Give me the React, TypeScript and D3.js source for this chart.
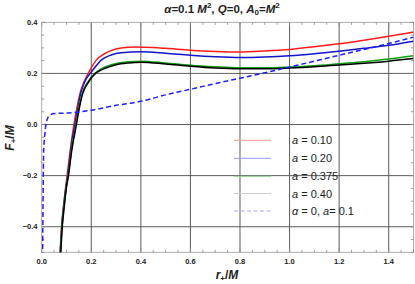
import { useEffect, useRef } from 'react';
import * as d3 from 'd3';

// a = 0.10
const rRed = [0.07, 0.074, 0.08, 0.09, 0.1, 0.11, 0.12, 0.13, 0.14, 0.154, 0.17, 0.1875, 0.2, 0.221, 0.25, 0.28, 0.32, 0.375, 0.45, 0.5, 0.6, 0.7, 0.8, 0.9, 1.0, 1.1, 1.2, 1.3, 1.4, 1.5];
const fRed = [-0.58, -0.5, -0.4, -0.3, -0.22, -0.14, -0.065, 0.0, 0.055, 0.12, 0.165, 0.2, 0.222, 0.253, 0.275, 0.289, 0.299, 0.303, 0.301, 0.298, 0.291, 0.286, 0.284, 0.288, 0.294, 0.304, 0.316, 0.33, 0.345, 0.362];
// a = 0.20
const rBlue = [0.07, 0.075, 0.081, 0.09, 0.1, 0.105, 0.12, 0.134, 0.145, 0.157, 0.175, 0.196, 0.22, 0.241, 0.28, 0.32, 0.4, 0.5, 0.6, 0.7, 0.8, 0.9, 1.0, 1.1, 1.2, 1.3, 1.4, 1.5];
const fBlue = [-0.6, -0.5, -0.4, -0.31, -0.23, -0.2, -0.08, 0.0, 0.06, 0.12, 0.17, 0.2, 0.23, 0.253, 0.272, 0.281, 0.285, 0.279, 0.271, 0.265, 0.262, 0.264, 0.269, 0.277, 0.287, 0.298, 0.31, 0.326];
// a = 0.375
const rGreen = [0.07, 0.076, 0.082, 0.09, 0.1, 0.107, 0.12, 0.138, 0.15, 0.163, 0.185, 0.2145, 0.235, 0.255, 0.3, 0.35, 0.4, 0.5, 0.6, 0.7, 0.8, 0.9, 1.0, 1.1, 1.2, 1.3, 1.4, 1.5];
const fGreen = [-0.62, -0.5, -0.4, -0.32, -0.24, -0.2, -0.1, 0.0, 0.065, 0.12, 0.165, 0.2, 0.215, 0.225, 0.239, 0.246, 0.248, 0.241, 0.232, 0.226, 0.222, 0.222, 0.225, 0.23, 0.238, 0.246, 0.256, 0.269];
// a = 0.40
const rBlack = [0.07, 0.077, 0.083, 0.09, 0.1, 0.108, 0.12, 0.14, 0.152, 0.165, 0.187, 0.217, 0.237, 0.258, 0.3, 0.35, 0.4, 0.5, 0.6, 0.7, 0.8, 0.9, 1.0, 1.1, 1.2, 1.3, 1.4, 1.5];
const fBlack = [-0.64, -0.5, -0.4, -0.33, -0.245, -0.2, -0.11, 0.0, 0.065, 0.12, 0.163, 0.2, 0.212, 0.221, 0.234, 0.241, 0.244, 0.237, 0.228, 0.221, 0.218, 0.218, 0.221, 0.226, 0.233, 0.24, 0.248, 0.258];
// alpha = 0, a = 0.1
const rDash = [0.002, 0.003, 0.005, 0.008, 0.013, 0.017, 0.022, 0.028, 0.035, 0.05, 0.1, 0.134, 0.2, 0.3, 0.4, 0.5, 0.6, 0.76, 0.8, 1.0, 1.2, 1.4, 1.5];
const fDash = [-0.8, -0.6, -0.35, -0.1, -0.035, 0.0, 0.02, 0.032, 0.038, 0.043, 0.045, 0.047, 0.056, 0.075, 0.091, 0.116, 0.138, 0.173, 0.181, 0.225, 0.271, 0.317, 0.342];

const legendLabels = ['a = 0.10', 'a = 0.20', 'a = 0.375', 'a = 0.40', 'α = 0, a= 0.1'];
const xTicks = [0.0, 0.2, 0.4, 0.6, 0.8, 1.0, 1.2, 1.4];
const yTicks = [-0.4, -0.2, 0.0, 0.2, 0.4];

const series = [
  { r: rRed, f: fRed, color: '#ff1a1a', legend: '#ff9c9c', dash: null },
  { r: rBlue, f: fBlue, color: '#1414c8', legend: '#9c9cff', dash: null },
  { r: rGreen, f: fGreen, color: '#12a012', legend: '#8fd08f', dash: null },
  { r: rBlack, f: fBlack, color: '#000000', legend: '#cfcfcf', dash: null },
  { r: rDash, f: fDash, color: '#1f1fff', legend: '#a8a8ff', dash: '5,3' },
];

const App = () => {
  const svgRef = useRef<SVGSVGElement>(null);

  useEffect(() => {
    if (!svgRef.current) return;
    const svg = d3.select(svgRef.current);
    svg.selectAll('*').remove();

    const left = 41.7, right = 413.5, top = 22.3, bottom = 252.3;
    const x = d3.scaleLinear().domain([0, 1.5]).range([left, right]);
    const y = d3.scaleLinear().domain([-0.5, 0.4]).range([bottom, top]);

    svg.append('defs').append('clipPath').attr('id', 'plotclip')
      .append('rect')
      .attr('x', left).attr('y', top)
      .attr('width', right - left).attr('height', bottom - top);

    // Grid lines
    const grid = svg.append('g');
    xTicks.slice(1).forEach(t => {
      grid.append('line')
        .attr('x1', x(t)).attr('x2', x(t))
        .attr('y1', top).attr('y2', bottom)
        .attr('stroke', '#4a4a4a').attr('stroke-width', 0.9);
    });
    yTicks.filter(t => t !== 0.4).forEach(t => {
      grid.append('line')
        .attr('x1', left).attr('x2', right)
        .attr('y1', y(t)).attr('y2', y(t))
        .attr('stroke', '#4a4a4a').attr('stroke-width', 0.9);
    });

    // Frame
    svg.append('rect')
      .attr('x', left).attr('y', top)
      .attr('width', right - left).attr('height', bottom - top)
      .attr('fill', 'none').attr('stroke', '#9a9a9a').attr('stroke-width', 0.8);

    // Ticks on all four sides
    const ticks = svg.append('g').attr('stroke', '#8a8a8a').attr('stroke-width', 0.8);
    d3.range(0, 1.5001, 0.05).forEach((t, i) => {
      const len = i % 4 === 0 ? 4 : 2.5;
      ticks.append('line').attr('x1', x(t)).attr('x2', x(t)).attr('y1', bottom).attr('y2', bottom - len);
      ticks.append('line').attr('x1', x(t)).attr('x2', x(t)).attr('y1', top).attr('y2', top + len);
    });
    d3.range(-0.5, 0.4001, 0.05).forEach((t, i) => {
      const len = (i - 2) % 4 === 0 ? 4 : 2.5;
      ticks.append('line').attr('x1', left).attr('x2', left + len).attr('y1', y(t)).attr('y2', y(t));
      ticks.append('line').attr('x1', right).attr('x2', right - len).attr('y1', y(t)).attr('y2', y(t));
    });

    // Tick labels
    const fmt = (v: number) => (v < 0 ? '\u2212' : '') + Math.abs(v).toFixed(1);
    svg.append('g').selectAll('text')
      .data(xTicks)
      .join('text')
      .attr('x', d => x(d))
      .attr('y', 264)
      .attr('text-anchor', 'middle')
      .style('font-family', 'Liberation Sans, Arial, sans-serif')
      .style('font-size', '7.5px')
      .style('font-weight', 'bold')
      .style('fill', '#222')
      .text(d => d.toFixed(1));
    svg.append('g').selectAll('text')
      .data(yTicks)
      .join('text')
      .attr('x', 37.5)
      .attr('y', d => y(d) + 2.6)
      .attr('text-anchor', 'end')
      .style('font-family', 'Liberation Sans, Arial, sans-serif')
      .style('font-size', '7.5px')
      .style('font-weight', 'bold')
      .style('fill', '#222')
      .text(d => fmt(d));

    // Curves
    const plot = svg.append('g').attr('clip-path', 'url(#plotclip)');
    series.forEach(s => {
      const pts: [number, number][] = s.r.map((r, i) => [r, s.f[i]]);
      const line = d3.line<[number, number]>()
        .x(d => x(d[0]))
        .y(d => y(d[1]))
        .curve(d3.curveMonotoneX);
      plot.append('path')
        .attr('d', line(pts) || '')
        .attr('fill', 'none')
        .attr('stroke', s.color)
        .attr('stroke-width', 1.5)
        .attr('stroke-dasharray', s.dash);
    });

    // Legend
    const legendY = [140.3, 158.3, 176.3, 193.5, 211];
    series.forEach((s, i) => {
      svg.append('line')
        .attr('x1', 234).attr('x2', 271)
        .attr('y1', legendY[i]).attr('y2', legendY[i])
        .attr('stroke', s.legend)
        .attr('stroke-width', 1)
        .attr('stroke-dasharray', s.dash ? '4,2.5' : null);
      const txt = svg.append('text')
        .attr('x', 292)
        .attr('y', legendY[i] + 4)
        .style('font-family', 'Liberation Sans, Arial, sans-serif')
        .style('font-size', '11px')
        .style('fill', '#222');
      const label = legendLabels[i];
      // italic symbol letters
      label.split(/(a|α)/).filter(p => p !== '').forEach(part => {
        txt.append('tspan')
          .style('font-style', part === 'a' || part === 'α' ? 'italic' : 'normal')
          .text(part);
      });
    });

    // Title
    const title = svg.append('text')
      .attr('x', 222)
      .attr('y', 12.5)
      .attr('text-anchor', 'middle')
      .style('font-family', 'Liberation Sans, Arial, sans-serif')
      .style('font-size', '11.5px')
      .style('font-weight', 'bold')
      .style('fill', '#222');
    const tParts: [string, string, string][] = [
      ['α', 'italic', ''], ['=0.1 ', 'normal', ''], ['M', 'italic', ''], ['2', 'normal', 'sup'],
      [', ', 'normal', ''], ['Q', 'italic', ''], ['=0, ', 'normal', ''], ['A', 'italic', ''], ['0', 'normal', 'sub'],
      ['=', 'normal', ''], ['M', 'italic', ''], ['2', 'normal', 'sup'],
    ];
    tParts.forEach(([t, st, pos], i) => {
      const sp = title.append('tspan').style('font-style', st).text(t);
      const prev = tParts[i - 1];
      if (pos === 'sup') sp.attr('dy', -4.5).style('font-size', '8px');
      else if (pos === 'sub') sp.attr('dy', 2.5).style('font-size', '8px');
      else if (prev && prev[2]) sp.attr('dy', prev[2] === 'sup' ? 4.5 : -2.5);
    });

    // Axis labels
    const xl = svg.append('text')
      .attr('x', 227)
      .attr('y', 278.5)
      .attr('text-anchor', 'middle')
      .style('font-family', 'Liberation Sans, Arial, sans-serif')
      .style('font-size', '12px')
      .style('font-weight', 'bold')
      .style('fill', '#222');
    xl.append('tspan').style('font-style', 'italic').text('r');
    xl.append('tspan').attr('dy', 2.5).style('font-size', '8px').text('+');
    xl.append('tspan').attr('dy', -2.5).text('/');
    xl.append('tspan').style('font-style', 'italic').text('M');

    const yl = svg.append('text')
      .attr('transform', 'translate(13.5,138) rotate(-90)')
      .attr('text-anchor', 'middle')
      .style('font-family', 'Liberation Sans, Arial, sans-serif')
      .style('font-size', '12px')
      .style('font-weight', 'bold')
      .style('fill', '#222');
    yl.append('tspan').style('font-style', 'italic').text('F');
    yl.append('tspan').attr('dy', 2.5).style('font-size', '8px').text('+');
    yl.append('tspan').attr('dy', -2.5).text('/');
    yl.append('tspan').style('font-style', 'italic').text('M');
  }, []);

  return (
    <svg
      ref={svgRef}
      width={415}
      height={284}
      style={{ position: 'absolute', left: 0, top: 0, background: '#fff' }}
    />
  );
};

export default App;
